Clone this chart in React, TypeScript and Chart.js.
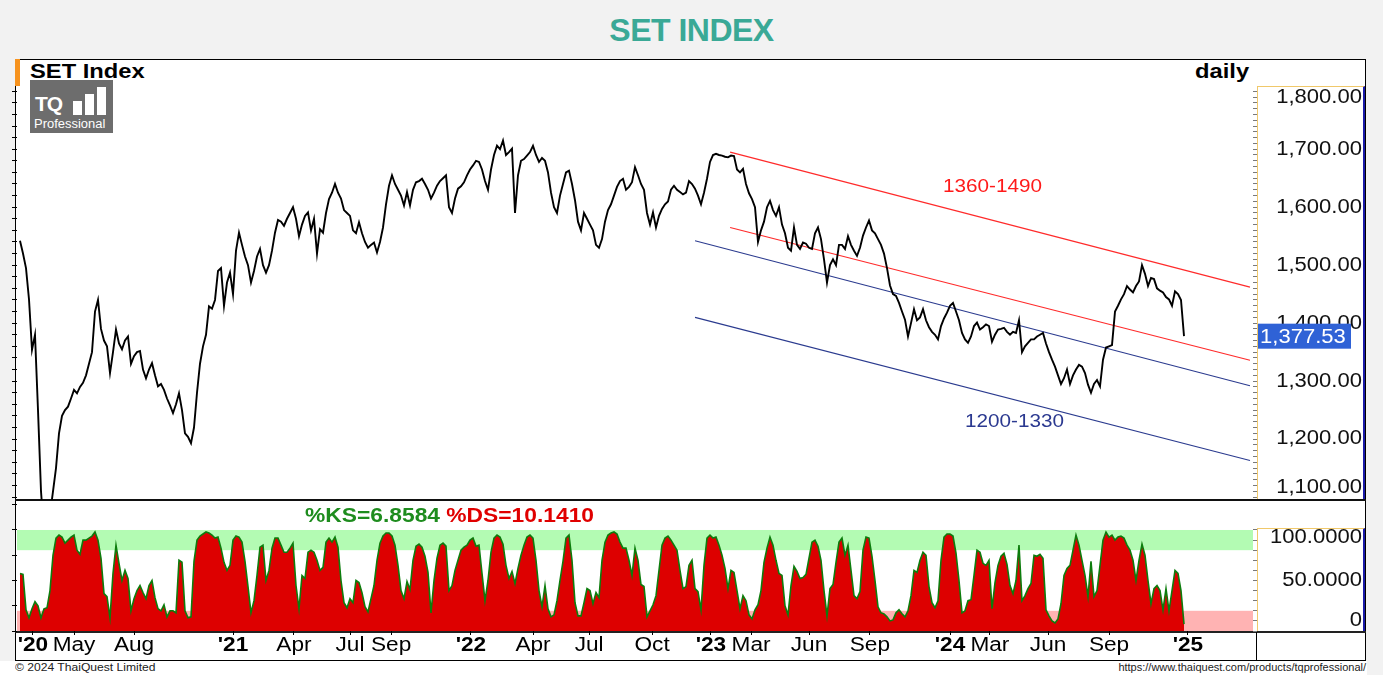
import React, { useEffect, useRef } from "react";
import { Chart, registerables } from "chart.js";

Chart.register(...registerables);

// ---------------- data ----------------
// daily SET index closes, sampled along the trading-day axis (index 0 = late Jan 2020)
const PRICE_CLOSE: number[] = [
  1542, 1520, 1495, 1441, 1354, 1380, 1250, 1110, 1040, 1080,
  1070, 1110, 1150, 1210, 1240, 1250, 1256, 1270, 1285, 1279,
  1290, 1297, 1310, 1330, 1350, 1420, 1440, 1390, 1370, 1360,
  1314, 1350, 1389, 1365, 1355, 1370, 1377, 1330, 1343, 1350,
  1352, 1320, 1305, 1320, 1331, 1310, 1291, 1295, 1285, 1270,
  1258, 1245, 1260, 1279, 1250, 1210, 1204, 1193, 1220, 1280,
  1330, 1360, 1380, 1429, 1425, 1440, 1490, 1495, 1430, 1470,
  1487, 1450, 1525, 1556, 1535, 1515, 1500, 1470, 1490, 1515,
  1528, 1500, 1487, 1500, 1525, 1556, 1578, 1575, 1568, 1580,
  1590, 1600, 1580, 1550, 1570, 1585, 1591, 1560, 1580, 1520,
  1562, 1556, 1590, 1614, 1625, 1640, 1625, 1615, 1595, 1590,
  1585, 1560, 1555, 1574, 1555, 1540, 1530, 1535, 1539, 1522,
  1540, 1565, 1605, 1637, 1655, 1640, 1630, 1620, 1603, 1626,
  1603, 1630, 1643, 1645, 1649, 1640, 1630, 1615, 1625, 1637,
  1645, 1650, 1655, 1600, 1590, 1615, 1632, 1636, 1643, 1655,
  1665, 1672, 1680, 1678, 1665, 1645, 1630, 1665, 1690, 1706,
  1700, 1715, 1690, 1695, 1701, 1590, 1655, 1680, 1683, 1689,
  1695, 1706, 1690, 1678, 1685, 1680, 1660, 1625, 1600, 1590,
  1620, 1640, 1660, 1663, 1640, 1612, 1575, 1560, 1590, 1580,
  1570, 1560, 1535, 1530, 1545, 1575, 1595, 1605, 1620, 1635,
  1645, 1649, 1630, 1635, 1643, 1669, 1655, 1640, 1630, 1590,
  1570, 1591, 1565, 1585, 1597, 1605, 1610, 1630, 1637, 1630,
  1626, 1622, 1625, 1645, 1640, 1632, 1620, 1605, 1625, 1649,
  1678, 1690, 1692, 1690, 1689, 1687, 1686, 1689, 1688, 1665,
  1660, 1666, 1640, 1624, 1614, 1600, 1540, 1560, 1575, 1600,
  1611, 1595, 1585, 1600, 1570, 1555, 1530, 1525, 1565, 1535,
  1528, 1539, 1537, 1530, 1528, 1555, 1565, 1545, 1510, 1470,
  1500, 1510, 1500, 1535, 1535, 1528, 1550, 1535, 1525, 1516,
  1530, 1551, 1565, 1577, 1560, 1555, 1545, 1535, 1520, 1495,
  1465, 1450, 1447, 1435, 1420, 1406, 1377, 1400, 1424, 1405,
  1410, 1424, 1405, 1393, 1385, 1380, 1372, 1395, 1408, 1418,
  1430, 1435, 1420, 1405, 1383, 1372, 1366, 1377, 1395, 1401,
  1389, 1393, 1398, 1395, 1368, 1380, 1389, 1390, 1392, 1385,
  1380, 1385, 1383, 1405, 1350, 1360, 1366, 1372, 1372, 1377,
  1380, 1383, 1365, 1350, 1337, 1325, 1310, 1295, 1305, 1320,
  1295, 1310, 1320, 1328, 1325, 1314, 1294, 1280, 1295, 1302,
  1291, 1337, 1358, 1360, 1362, 1420, 1430, 1441, 1450, 1464,
  1458, 1453, 1464, 1472, 1500, 1485, 1464, 1478, 1476, 1460,
  1456, 1453, 1445, 1441, 1430, 1455, 1450, 1440, 1377.53,
];

// slow stochastic %K, same sampling
const STOCH_K: number[] = [
  57, 56, 21, 13, 22, 29, 25, 13, 22, 23,
  40, 75, 92, 95, 93, 87, 90, 93, 95, 80,
  76, 90, 90, 92, 94, 98, 90, 72, 37, 34,
  13, 57, 85, 67, 50, 60, 52, 20, 32, 40,
  45, 38, 32, 45, 50, 33, 22, 20, 26, 14,
  20, 20, 18, 70, 68, 20, 13, 14, 69, 90,
  94, 96, 98, 97, 95, 92, 93, 82, 68, 60,
  65, 90, 94, 93, 88, 69, 44, 18, 30, 55,
  83, 85, 50, 60, 82, 92, 92, 85, 78, 78,
  82, 87, 45, 22, 55, 52, 78, 80, 78, 70,
  60, 63, 88, 92, 88, 93, 83, 50, 28, 23,
  32, 28, 50, 48, 38, 24, 19, 32, 45, 70,
  87, 94, 97, 97, 94, 85, 65, 40, 32, 49,
  41, 70, 84, 86, 83, 74, 58, 18, 50, 72,
  85, 87, 84, 40, 45, 60, 70, 80, 83, 85,
  90, 92, 84, 85, 57, 30, 50, 78, 92, 95,
  93, 86, 65, 52, 59, 47, 62, 75, 85, 93,
  95, 92, 70, 40, 24, 45, 22, 14, 16, 30,
  50, 69, 92, 95, 70, 28, 15, 15, 28, 42,
  40, 27, 38, 33, 70, 88, 95, 97, 98, 96,
  88, 82, 82, 70, 55, 82, 70, 46, 44, 14,
  20, 26, 35, 60, 85, 92, 94, 90, 85, 80,
  60, 42, 44, 65, 70, 42, 39, 21, 65, 92,
  95, 92, 93, 85, 75, 62, 42, 60, 58, 40,
  22, 35, 30, 16, 12, 21, 26, 40, 68, 82,
  93, 85, 70, 57, 55, 25, 16, 45, 64, 59,
  52, 53, 56, 72, 88, 90, 84, 70, 40, 15,
  42, 46, 68, 88, 92, 75, 85, 60, 35, 32,
  39, 80, 93, 92, 74, 50, 24, 18, 17, 14,
  10, 11, 18, 21, 17, 14, 20, 35, 60, 58,
  70, 78, 75, 44, 28, 23, 30, 70, 93, 96,
  96, 94, 77, 50, 18, 20, 30, 31, 55, 80,
  78, 67, 65, 70, 22, 48, 65, 74, 77, 66,
  45, 37, 50, 85, 30, 35, 42, 47, 75, 74,
  76, 72, 21, 15, 10, 8, 12, 27, 55, 62,
  65, 80, 95, 85, 70, 55, 34, 69, 34, 40,
  65, 90, 98, 93, 95, 90, 93, 94, 92, 85,
  80, 70, 50, 70, 86, 75, 50, 27, 42, 45,
  40, 21, 42, 20, 40, 60, 57, 40, 6.8584,
];

const LAST_PRICE = 1377.53;
const KS_TEXT = "%KS=6.8584";
const DS_TEXT = "%DS=10.1410";

// x-axis labels and their positions on the trading-day index axis
const X_TICK_POS = [4.3, 18, 38, 71, 91.3, 110, 123.7, 150.3, 171, 189.7, 210.7, 230.3, 243.7, 263, 283.3, 310, 323.3, 342.7, 363, 389.3];
const X_TICK_LABELS = ["'20", "May", "Aug", "'21", "Apr", "Jul", "Sep", "'22", "Apr", "Jul", "Oct", "'23", "Mar", "Jun", "Sep", "'24", "Mar", "Jun", "Sep", "'25"];

const PRICE_TICKS = [1100, 1200, 1300, 1400, 1500, 1600, 1700, 1800];
const STOCH_TICKS = [0, 50, 100];

// trend channels (index, price)
const RED_UPPER = [{ x: 236.7, y: 1695 }, { x: 410, y: 1462 }];
const RED_LOWER = [{ x: 236.7, y: 1565 }, { x: 410, y: 1336 }];
const BLUE_UPPER = [{ x: 225, y: 1542 }, { x: 410, y: 1292 }];
const BLUE_LOWER = [{ x: 225, y: 1410 }, { x: 410, y: 1163 }];
const RED_CHANNEL_LABEL = "1360-1490";
const BLUE_CHANNEL_LABEL = "1200-1330";

const OVERBOUGHT = [80, 100];
const OVERSOLD = [0, 20];

const X_MIN = -1;
const X_MAX = 411;
const PRICE_MIN = 1095;
const PRICE_MAX = 1809;
const STOCH_MIN = 0;
const STOCH_MAX = 127.7;

// ---------------- helpers ----------------
const STRETCH = 1.13;

function stretchText(ctx: CanvasRenderingContext2D, text: string, x: number, y: number, align: CanvasTextAlign, s: number) {
  ctx.save();
  ctx.translate(x, y);
  ctx.scale(s, 1);
  ctx.textAlign = align;
  ctx.fillText(text, 0, 0);
  ctx.restore();
}

const fmtPrice = (v: number) =>
  v.toLocaleString("en-US", { minimumFractionDigits: 2, maximumFractionDigits: 2 });
const fmtStoch = (v: number) => (v === 0 ? "0" : v.toFixed(4));

function rangeTicks(from: number, to: number, step: number) {
  const t: { value: number }[] = [];
  for (let v = from; v <= to + 1e-9; v += step) t.push({ value: v });
  return t;
}

const pricePlugin = {
  id: "priceAxisLabels",
  afterDraw(chart: any) {
    const ctx: CanvasRenderingContext2D = chart.ctx;
    const ys = chart.scales.y;
    ctx.save();
    ctx.font = "19.5px Arial, 'Liberation Sans', sans-serif";
    ctx.fillStyle = "#111";
    ctx.textBaseline = "middle";
    for (const v of PRICE_TICKS) {
      const y = Math.min(Math.max(ys.getPixelForValue(v), ys.top + 12), ys.bottom - 12);
      stretchText(ctx, fmtPrice(v), chart.width - 4, y, "right", STRETCH);
    }
    const yl = ys.getPixelForValue(LAST_PRICE);
    ctx.fillStyle = "#2f62d6";
    ctx.fillRect(chart.width - 108, yl - 12.5, 93, 25);
    ctx.fillStyle = "#ffffff";
    stretchText(ctx, fmtPrice(LAST_PRICE), chart.width - 106, yl + 1, "left", STRETCH);
    ctx.restore();
  },
};

const stochPlugin = {
  id: "stochDecor",
  beforeDatasetsDraw(chart: any) {
    const ctx: CanvasRenderingContext2D = chart.ctx;
    const a = chart.chartArea;
    const ys = chart.scales.y;
    ctx.save();
    const g1 = ys.getPixelForValue(OVERBOUGHT[1]);
    const g0 = ys.getPixelForValue(OVERBOUGHT[0]);
    ctx.fillStyle = "#b3fbb3";
    ctx.fillRect(a.left, g1, a.right - a.left, g0 - g1);
    const p1 = ys.getPixelForValue(OVERSOLD[1]);
    const p0 = ys.getPixelForValue(OVERSOLD[0]);
    ctx.fillStyle = "#ffb3b3";
    ctx.fillRect(a.left, p1, a.right - a.left, p0 - p1);
    ctx.restore();
  },
  afterDraw(chart: any) {
    const ctx: CanvasRenderingContext2D = chart.ctx;
    const ys = chart.scales.y;
    const xs = chart.scales.x;
    ctx.save();
    ctx.fillStyle = "#111";
    ctx.textBaseline = "middle";
    ctx.font = "19.5px Arial, 'Liberation Sans', sans-serif";
    for (const v of STOCH_TICKS) {
      const y = Math.min(Math.max(ys.getPixelForValue(v), ys.top + 36), ys.bottom - 10);
      stretchText(ctx, fmtStoch(v), chart.width - 4, y, "right", STRETCH);
    }
    ctx.fillStyle = "#000";
    X_TICK_LABELS.forEach((lab, i) => {
      const isYear = lab.startsWith("'");
      ctx.font = `${isYear ? "bold " : ""}19.5px Arial, 'Liberation Sans', sans-serif`;
      stretchText(ctx, lab, xs.getPixelForValue(X_TICK_POS[i]), xs.top + 15, "center", 1.16);
    });
    ctx.restore();
  },
};

function leftAxis(min: number, max: number, step: number) {
  return {
    type: "linear",
    position: "left",
    min,
    max,
    afterBuildTicks: (s: any) => {
      s.ticks = rangeTicks(Math.ceil(min / step) * step, max, step);
    },
    afterFit: (s: any) => {
      s.width = 5;
      s.paddingTop = 0;
      s.paddingBottom = 0;
    },
    grid: { drawOnChartArea: false, drawTicks: true, tickLength: 5, color: "#000" },
    border: { display: false },
    ticks: { display: false },
  };
}

function rightAxis(min: number, max: number, from: number, to: number, step: number) {
  return {
    type: "linear",
    position: "right",
    min,
    max,
    afterBuildTicks: (s: any) => {
      s.ticks = rangeTicks(from, to, step);
    },
    afterFit: (s: any) => {
      s.width = 113;
      s.paddingTop = 0;
      s.paddingBottom = 0;
    },
    grid: { drawOnChartArea: false, drawTicks: true, tickLength: 4, color: "#7a7a7a" },
    border: { display: false },
    ticks: { display: false },
  };
}

// ---------------- component ----------------
export default function App() {
  const priceRef = useRef<HTMLCanvasElement>(null);
  const stochRef = useRef<HTMLCanvasElement>(null);

  useEffect(() => {
    const priceChart = new Chart(priceRef.current as HTMLCanvasElement, {
      type: "line",
      data: {
        datasets: [
          {
            data: PRICE_CLOSE.map((v, i) => ({ x: i, y: v })),
            borderColor: "#000000",
            borderWidth: 1.9,
            pointRadius: 0,
            tension: 0,
            clip: 0,
            yAxisID: "y",
          },
          { data: RED_UPPER, borderColor: "#ff2b2b", borderWidth: 1.2, pointRadius: 0, yAxisID: "y" },
          { data: RED_LOWER, borderColor: "#ff2b2b", borderWidth: 1.2, pointRadius: 0, yAxisID: "y" },
          { data: BLUE_UPPER, borderColor: "#2b3b8f", borderWidth: 1.1, pointRadius: 0, yAxisID: "y" },
          { data: BLUE_LOWER, borderColor: "#2b3b8f", borderWidth: 1.1, pointRadius: 0, yAxisID: "y" },
        ],
      },
      options: {
        animation: false,
        responsive: false,
        events: [],
        layout: { padding: 0 },
        plugins: { legend: { display: false }, tooltip: { enabled: false } },
        scales: {
          x: { type: "linear", min: X_MIN, max: X_MAX, display: false },
          y: rightAxis(PRICE_MIN, PRICE_MAX, 1100, 1800, 10),
          yl: leftAxis(PRICE_MIN, PRICE_MAX, 20),
        } as any,
      },
      plugins: [pricePlugin],
    } as any);

    const stochChart = new Chart(stochRef.current as HTMLCanvasElement, {
      type: "line",
      data: {
        datasets: [
          {
            data: STOCH_K.map((v, i) => ({ x: i, y: v })),
            borderColor: "#0d7d0d",
            borderWidth: 1.6,
            backgroundColor: "#dd0000",
            fill: "origin",
            pointRadius: 0,
            tension: 0,
            yAxisID: "y",
          },
        ],
      },
      options: {
        animation: false,
        responsive: false,
        events: [],
        layout: { padding: 0 },
        plugins: { legend: { display: false }, tooltip: { enabled: false } },
        scales: {
          x: {
            type: "linear",
            position: "bottom",
            min: X_MIN,
            max: X_MAX,
            afterBuildTicks: (s: any) => {
              s.ticks = X_TICK_POS.map((v) => ({ value: v }));
            },
            afterFit: (s: any) => {
              s.height = 30;
              s.paddingLeft = 0;
              s.paddingRight = 0;
            },
            grid: { drawOnChartArea: false, drawTicks: true, tickLength: 4, color: "#000" },
            border: { display: false },
            ticks: { display: false },
          },
          y: rightAxis(STOCH_MIN, STOCH_MAX, 0, 100, 10),
          yl: leftAxis(STOCH_MIN, STOCH_MAX, 25),
        } as any,
      },
      plugins: [stochPlugin],
    } as any);

    return () => {
      priceChart.destroy();
      stochChart.destroy();
    };
  }, []);

  const abs = (s: React.CSSProperties): React.CSSProperties => ({ position: "absolute", ...s });
  const stretch = (k: number): React.CSSProperties => ({
    transform: `scaleX(${k})`,
    transformOrigin: "left top",
    whiteSpace: "nowrap",
  });
  const font = "Arial, 'Liberation Sans', sans-serif";

  return (
    <div
      style={{
        position: "fixed",
        left: 0,
        top: 0,
        width: 1383,
        height: 675,
        background: "#f2f2f2",
        overflow: "hidden",
        fontFamily: font,
      }}
    >
      {/* page title */}
      <div
        style={abs({
          left: 0,
          top: 0,
          width: 1383,
          height: 58,
          lineHeight: "60px",
          textAlign: "center",
          fontSize: 32,
          fontWeight: "bold",
          color: "#3aa996",
          letterSpacing: "-0.5px",
        })}
      >
        SET INDEX
      </div>

      {/* footer band */}
      <div style={abs({ left: 0, top: 661, width: 1367, height: 14, background: "#ffffff" })} />

      {/* chart frame */}
      <div
        style={abs({
          left: 15,
          top: 59,
          width: 1351,
          height: 602,
          background: "#ffffff",
          border: "1px solid #000",
          boxSizing: "border-box",
        })}
      />
      <div style={abs({ left: 15, top: 59, width: 5, height: 27, background: "#f7931e" })} />

      {/* y-axis boxes */}
      <div
        style={abs({
          left: 1257,
          top: 86,
          width: 108,
          height: 413,
          background: "#fff",
          borderLeft: "1px solid #f0c86a",
          borderTop: "1px solid #f0c86a",
          borderRight: "2px solid #1a1aa8",
          boxSizing: "border-box",
        })}
      />
      <div
        style={abs({
          left: 1257,
          top: 528,
          width: 108,
          height: 103,
          background: "#fff",
          borderLeft: "1px solid #f0c86a",
          borderTop: "1px solid #f0c86a",
          borderRight: "2px solid #1a1aa8",
          boxSizing: "border-box",
        })}
      />

      {/* panel separators */}
      <div style={abs({ left: 15, top: 499, width: 1351, height: 2, background: "#111" })} />
      <div style={abs({ left: 15, top: 631, width: 1351, height: 2, background: "#222" })} />
      <div style={abs({ left: 1256, top: 632, width: 1, height: 28, background: "#000" })} />

      {/* charts */}
      <canvas ref={priceRef} width={1354} height={414} style={abs({ left: 12, top: 86, width: 1354, height: 414 })} />
      <canvas ref={stochRef} width={1354} height={159} style={abs({ left: 12, top: 502, width: 1354, height: 159 })} />

      {/* panel headings */}
      <div style={abs({ left: 30, top: 59, fontSize: 21, lineHeight: "24px", fontWeight: "bold", color: "#000", ...stretch(1.13) })}>
        SET Index
      </div>
      <div style={abs({ left: 1195, top: 59, fontSize: 21, lineHeight: "24px", fontWeight: "bold", color: "#000", ...stretch(1.13) })}>
        daily
      </div>

      {/* logo */}
      <div style={abs({ left: 30, top: 80, width: 83, height: 53, background: "#6d6d6d" })}>
        <div style={abs({ left: 5, top: 12, fontSize: 21, lineHeight: "24px", fontWeight: "bold", color: "#fff", letterSpacing: "-1px" })}>
          TQ
        </div>
        <div style={abs({ left: 43, top: 21, width: 9, height: 14, background: "#fff" })} />
        <div style={abs({ left: 55, top: 14, width: 9, height: 21, background: "#fff" })} />
        <div style={abs({ left: 67, top: 7, width: 9, height: 28, background: "#fff" })} />
        <div style={abs({ left: 4, top: 37, fontSize: 12, lineHeight: "14px", color: "#fff", ...stretch(1.08) })}>
          Professional
        </div>
      </div>

      {/* channel annotations */}
      <div style={abs({ left: 943, top: 176, fontSize: 18, lineHeight: "21px", color: "#ff1a1a", ...stretch(1.15) })}>
        {RED_CHANNEL_LABEL}
      </div>
      <div style={abs({ left: 965, top: 411, fontSize: 18, lineHeight: "21px", color: "#2b3990", ...stretch(1.15) })}>
        {BLUE_CHANNEL_LABEL}
      </div>

      {/* stochastic legend */}
      <div style={abs({ left: 305, top: 503, fontSize: 20, lineHeight: "24px", fontWeight: "bold", ...stretch(1.14) })}>
        <span style={{ color: "#1e8c1e" }}>{KS_TEXT}</span>{" "}
        <span style={{ color: "#e00000" }}>{DS_TEXT}</span>
      </div>

      {/* footer texts */}
      <div style={abs({ left: 15, top: 661, fontSize: 11, lineHeight: "13px", color: "#222", ...stretch(1.1) })}>
        © 2024 ThaiQuest Limited
      </div>
      <div style={abs({ right: 17, top: 661, fontSize: 11, lineHeight: "13px", color: "#222", whiteSpace: "nowrap" })}>
        https://www.thaiquest.com/products/tqprofessional/
      </div>
    </div>
  );
}
